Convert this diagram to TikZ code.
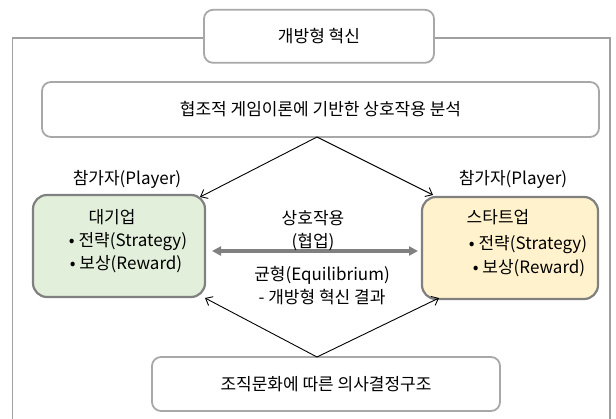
\documentclass[tikz,border=0pt]{standalone}
\usepackage{fontspec}
\setmainfont{Noto Sans CJK KR}
\usetikzlibrary{arrows.meta,calc}
\definecolor{framegray}{RGB}{160,160,160}
\definecolor{boxgray}{RGB}{168,168,168}
\definecolor{pgray}{RGB}{128,128,128}
\definecolor{arrgray}{RGB}{128,128,128}
\definecolor{greenfill}{RGB}{226,239,218}
\definecolor{yellowfill}{RGB}{255,242,204}
\begin{document}
\begin{tikzpicture}[x=1pt,y=-1pt,
  font=\fontsize{17}{20}\selectfont,
  wbox/.style={draw=boxgray, line width=1.8pt, rounded corners=9pt, fill=white, inner sep=0pt, outer sep=0pt},
  pbox/.style={draw=pgray, line width=2.2pt, rounded corners=14pt, inner sep=0pt, outer sep=0pt},
  con/.style={-{Straight Barb[length=6pt,width=10pt]}, line width=0.9pt, black},
  biarrow/.style={{Triangle[length=9pt,width=9pt]}-{Triangle[length=9pt,width=9pt]}, line width=3.5pt, arrgray},
  txt/.style={inner sep=0pt, anchor=base},
  ctxt/.style={inner sep=0pt}]
\useasboundingbox (0,0) rectangle (616,418);
\draw[framegray, line width=1.2pt] (12.7,430) -- (12.7,38) -- (610,38) -- (610,430);
\node[wbox, minimum width=230pt, minimum height=53pt] (top) at (319,36.3) {개방형 혁신};
\node[wbox, minimum width=557pt, minimum height=55pt] (mid) at (320.5,109.5) {협조적 게임이론에 기반한 상호작용 분석};
\node[pbox, fill=greenfill, minimum width=172pt, minimum height=102pt] (lbox) at (119,246) {};
\node[pbox, fill=yellowfill, minimum width=176pt, minimum height=102pt] (rbox) at (510,248) {};
\node[wbox, minimum width=348pt, minimum height=54pt] (bot) at (326,384) {조직문화에 따른 의사결정구조};
% labels
\node[ctxt] (lp) at (127,179) {참가자(Player)};
\node[ctxt] (rp) at (513,179) {참가자(Player)};
\node[txt] (l1) at (112,223.5) {대기업};
\node[txt] (l2) at (128,246.5) {• 전략(Strategy)};
\node[txt] (l3) at (126,269.5) {• 보상(Reward)};
\node[txt] (r1) at (498,223.5) {스타트업};
\node[txt] (r2) at (528,249.5) {• 전략(Strategy)};
\node[txt] (r3) at (529,273.5) {• 보상(Reward)};
% middle
\draw[biarrow] ($(lbox.east)+(7,5)$) -- ($(rbox.west)+(-4,3)$);
\node[ctxt] (m1) at (313,218) {상호작용};
\node[ctxt] (m2) at (313,242) {(협업)};
\node[ctxt] (m3) at (322,275) {균형(Equilibrium)};
\node[ctxt] (m4) at (322,297) {- 개방형 혁신 결과};
% connectors
\coordinate (ta) at ($(mid.south)+(-3.5,0)$);
\coordinate (ba) at ($(bot.north)+(-9,0)$);
\draw[con] (ta) -- ($(lbox.north east)+(-5,2)$);
\draw[con] (ta) -- ($(rbox.north west)+(11,-2)$);
\draw[con] (ba) -- ($(lbox.south east)+(0,1)$);
\draw[con] (ba) -- ($(rbox.south west)+(17,-1)$);
\end{tikzpicture}
\end{document}
